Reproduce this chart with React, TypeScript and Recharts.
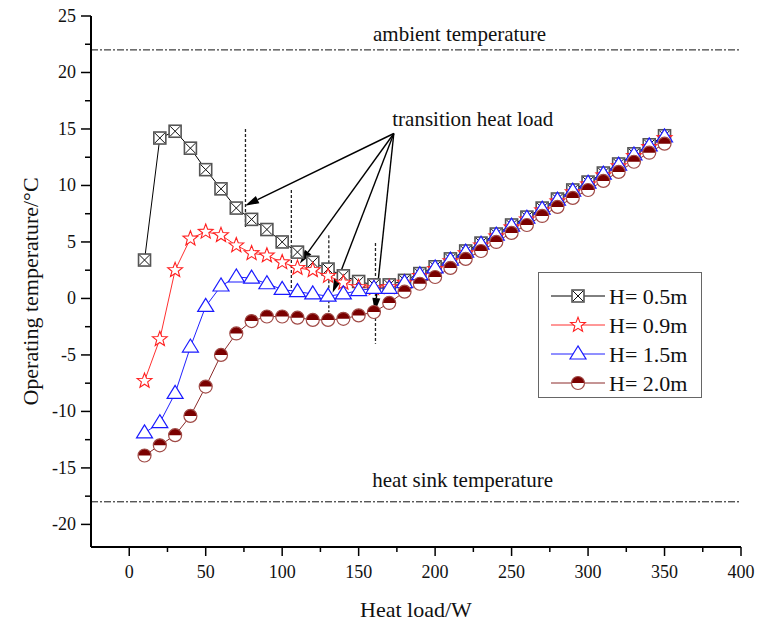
import React from 'react';
import {
  LineChart,
  Line,
  XAxis,
  YAxis,
  ReferenceLine,
  ReferenceDot,
  Legend
} from 'recharts';

const FONT = "'Liberation Serif', 'Times New Roman', serif";

// heat load (W)
const heatLoad = [
  10, 20, 30, 40, 50, 60, 70, 80, 90, 100, 110, 120, 130, 140, 150, 160, 170, 180,
  190, 200, 210, 220, 230, 240, 250, 260, 270, 280, 290, 300, 310, 320, 330, 340, 350
];

// operating temperature (°C) for each pipe height
const h05 = [
  3.4, 14.2, 14.8, 13.3, 11.4, 9.7, 8.0, 7.0, 6.1, 5.0, 4.1, 3.2, 2.6, 2.0, 1.5, 1.2, 1.2, 1.6,
  2.2, 2.8, 3.5, 4.2, 4.9, 5.7, 6.5, 7.2, 8.0, 8.8, 9.6, 10.3, 11.1, 11.9, 12.8, 13.6, 14.4
];
const h09 = [
  -7.3, -3.6, 2.5, 5.3, 5.9, 5.6, 4.7, 4.0, 3.8, 3.2, 2.7, 2.5, 2.0, 1.4, 1.0, 0.9, 1.0, 1.4,
  2.0, 2.6, 3.3, 4.0, 4.7, 5.5, 6.3, 7.0, 7.8, 8.6, 9.4, 10.1, 10.9, 11.7, 12.6, 13.4, 14.2
];
const h15 = [
  -11.9, -11.0, -8.4, -4.3, -0.7, 1.1, 1.9, 1.8, 1.3, 0.8, 0.6, 0.4, 0.2, 0.4, 0.7, 0.9, 0.9, 1.4,
  2.1, 2.7, 3.4, 4.1, 4.8, 5.6, 6.4, 7.1, 7.9, 8.7, 9.5, 10.2, 11.0, 11.8, 12.7, 13.5, 14.3
];
const h20 = [
  -13.9, -13.0, -12.1, -10.4, -7.8, -5.0, -3.1, -2.0, -1.6, -1.6, -1.7, -1.9, -1.9, -1.8, -1.5, -1.2, -0.4, 0.6,
  1.3, 1.9, 2.7, 3.5, 4.2, 5.0, 5.8, 6.5, 7.3, 8.1, 8.9, 9.6, 10.4, 11.2, 12.1, 12.9, 13.7
];

const xTicks = [0, 25, 50, 75, 100, 125, 150, 175, 200, 225, 250, 275, 300, 325, 350, 375, 400];
const yTicks = [-20, -17.5, -15, -12.5, -10, -7.5, -5, -2.5, 0, 2.5, 5, 7.5, 10, 12.5, 15, 17.5, 20, 22.5, 25];

const ambientTemp = 22;
const sinkTemp = -18;

// transition heat load markers (dashed verticals) and the arrows pointing at them
const transitionLoads = [76, 106, 130.5, 161];
const transitionTop = [15.0, 9.6, 5.6, 4.9];
const transitionBottom = [6.2, 0.7, -1.2, -4.0];
const arrowFrom = { x: 173, y: 14.6 };
const arrowTipX = [75.7, 111.6, 133, 160.6];
const arrowTipY = [8.2, 3.1, 0.5, -1.2];

const data = heatLoad.map((load, i) => ({
  load,
  h05: h05[i],
  h09: h09[i],
  h15: h15[i],
  h20: h20[i]
}));

const SquareX = ({ cx, cy }: any) => (
  <g>
    <rect x={cx - 6} y={cy - 6} width={12} height={12} fill="#fff" stroke="#555" strokeWidth={1.6} />
    <path d={`M${cx - 5} ${cy - 5}L${cx + 5} ${cy + 5}M${cx + 5} ${cy - 5}L${cx - 5} ${cy + 5}`} stroke="#111" strokeWidth={1} />
  </g>
);

const Star = ({ cx, cy }: any) => {
  const pts: string[] = [];
  for (let k = 0; k < 10; k++) {
    const a = (-90 + k * 36) * Math.PI / 180;
    const r = k % 2 === 0 ? 7.8 : 3.3;
    pts.push(`${cx + r * Math.cos(a)},${cy + r * Math.sin(a)}`);
  }
  return <polygon points={pts.join(' ')} fill="#fff" stroke="#ff2020" strokeWidth={1.1} />;
};

const Triangle = ({ cx, cy }: any) => (
  <polygon
    points={`${cx},${cy - 8} ${cx - 8},${cy + 5} ${cx + 8},${cy + 5}`}
    fill="#fff"
    stroke="#1a1aff"
    strokeWidth={1.2}
  />
);

const HalfCircle = ({ cx, cy }: any) => {
  const r = 6.5;
  return (
    <g>
      <circle cx={cx} cy={cy} r={r} fill="#fff" />
      <path d={`M${cx - r} ${cy}A${r} ${r} 0 0 1 ${cx + r} ${cy}Z`} fill="#7a0000" />
      <circle cx={cx} cy={cy} r={r} fill="none" stroke="#a04a46" strokeWidth={1.2} />
    </g>
  );
};

const series = [
  { key: 'h05', name: 'H= 0.5m', color: '#000', Marker: SquareX },
  { key: 'h09', name: 'H= 0.9m', color: '#ff3030', Marker: Star },
  { key: 'h15', name: 'H= 1.5m', color: '#2020ff', Marker: Triangle },
  { key: 'h20', name: 'H= 2.0m', color: '#8b2a2a', Marker: HalfCircle }
];

const Y_TICK = 10;
const Y_GAP = 5;
const X_TICK = 9;
const X_GAP = 9;

const YTick = ({ x, y, payload }: any) => {
  const major = payload.value % 5 === 0;
  const axisX = x + Y_GAP + Y_TICK;
  return (
    <g>
      <line x1={axisX} x2={axisX - (major ? Y_TICK : 6)} y1={y} y2={y} stroke="#000" strokeWidth={1.5} />
      {major && (
        <text x={x} y={y + 6} textAnchor="end" fontSize={18} fontFamily={FONT} fill="#111">
          {payload.value}
        </text>
      )}
    </g>
  );
};

const XTick = ({ x, y, payload }: any) => {
  const major = payload.value % 50 === 0;
  const axisY = y - X_GAP - X_TICK;
  return (
    <g>
      <line x1={x} x2={x} y1={axisY} y2={axisY + (major ? X_TICK : 5)} stroke="#000" strokeWidth={1.5} />
      {major && (
        <text x={x} y={y + 13} textAnchor="middle" fontSize={18} fontFamily={FONT} fill="#111">
          {payload.value}
        </text>
      )}
    </g>
  );
};

const XTitle = ({ viewBox }: any) => (
  <text
    x={viewBox.x + viewBox.width / 2}
    y={viewBox.y + 70}
    textAnchor="middle"
    fontSize={22}
    fontFamily={FONT}
    fill="#111"
  >
    Heat load/W
  </text>
);

const YTitle = ({ viewBox }: any) => {
  const cx = viewBox.x + 30;
  const cy = viewBox.y + viewBox.height / 2 + 10;
  return (
    <text
      x={cx}
      y={cy}
      transform={`rotate(-90 ${cx} ${cy})`}
      textAnchor="middle"
      dominantBaseline="central"
      fontSize={22}
      fontFamily={FONT}
      fill="#111"
    >
      Operating temperature/°C
    </text>
  );
};

const Arrow = ({ x1, y1, x2, y2 }: any) => {
  const dx = x2 - x1;
  const dy = y2 - y1;
  const len = Math.sqrt(dx * dx + dy * dy);
  const ux = dx / len;
  const uy = dy / len;
  const head = 14;
  const half = 4;
  const bx = x2 - ux * head;
  const by = y2 - uy * head;
  return (
    <g>
      <line x1={x1} y1={y1} x2={bx} y2={by} stroke="#000" strokeWidth={1.4} />
      <polygon
        points={`${x2},${y2} ${bx - uy * half},${by + ux * half} ${bx + uy * half},${by - ux * half}`}
        fill="#000"
      />
    </g>
  );
};

const note = (text: string, anchor: string) => (p: any) => (
  <text x={p.cx} y={p.cy} textAnchor={anchor} dominantBaseline="central" fontSize={21} fontFamily={FONT} fill="#111">
    {text}
  </text>
);

const LegendBox = () => (
  <svg width={164} height={126} style={{ display: 'block' }}>
    <rect x={0.5} y={0.5} width={163} height={125} fill="#fff" stroke="#666" strokeWidth={1} />
    {series.map((s, i) => {
      const cy = 24 + i * 29;
      const M = s.Marker;
      return (
        <g key={s.key}>
          <line x1={13} x2={67} y1={cy} y2={cy} stroke={s.color} strokeWidth={1} />
          <M cx={40} cy={cy} />
          <text x={71} y={cy} dominantBaseline="central" fontSize={22} fontFamily={FONT} fill="#111">
            {s.name}
          </text>
        </g>
      );
    })}
  </svg>
);

export default function App() {
  return (
    <div style={{ position: 'absolute', left: 0, top: 0, background: '#fff' }}>
      <LineChart width={757} height={626} data={data} margin={{ top: 16, right: 16, left: 0, bottom: 0 }}>
        <XAxis
          type="number"
          dataKey="load"
          domain={[-25, 400]}
          ticks={xTicks}
          interval={0}
          height={79}
          tickSize={X_TICK}
          tickMargin={X_GAP}
          tickLine={false}
          tick={<XTick />}
          axisLine={{ stroke: '#000', strokeWidth: 2 }}
          label={XTitle}
        />
        <YAxis
          type="number"
          domain={[-22, 25]}
          ticks={yTicks}
          interval={0}
          width={91}
          tickSize={Y_TICK}
          tickMargin={Y_GAP}
          tickLine={false}
          tick={<YTick />}
          axisLine={{ stroke: '#000', strokeWidth: 2 }}
          label={YTitle}
        />
        <ReferenceLine y={ambientTemp} stroke="#111" strokeWidth={1} strokeDasharray="7 2 2 2" />
        <ReferenceLine y={sinkTemp} stroke="#111" strokeWidth={1} strokeDasharray="7 2 2 2" />
        {transitionLoads.map((x, i) => (
          <ReferenceLine
            key={`t${i}`}
            segment={[{ x, y: transitionTop[i] }, { x, y: transitionBottom[i] }]}
            stroke="#222"
            strokeWidth={1.3}
            strokeDasharray="3 2"
          />
        ))}
        {arrowTipX.map((x, i) => (
          <ReferenceLine
            key={`a${i}`}
            segment={[arrowFrom, { x, y: arrowTipY[i] }]}
            shape={Arrow}
          />
        ))}
        {series.map((s) => (
          <Line
            key={s.key}
            dataKey={s.key}
            name={s.name}
            stroke={s.color}
            strokeWidth={1}
            isAnimationActive={false}
            dot={(p: any) => <s.Marker key={`${s.key}-${p.index}`} cx={p.cx} cy={p.cy} />}
            activeDot={false}
          />
        ))}
        <ReferenceDot x={216} y={23.4} r={0} ifOverflow="visible" shape={note('ambient temperature', 'middle')} />
        <ReferenceDot x={218} y={-16.1} r={0} ifOverflow="visible" shape={note('heat sink temperature', 'middle')} />
        <ReferenceDot x={172} y={15.9} r={0} ifOverflow="visible" shape={note('transition heat load', 'start')} />
        <Legend
          layout="vertical"
          align="center"
          verticalAlign="middle"
          wrapperStyle={{ left: 538, top: 272, width: 164, height: 126 }}
          content={LegendBox}
        />
      </LineChart>
    </div>
  );
}
